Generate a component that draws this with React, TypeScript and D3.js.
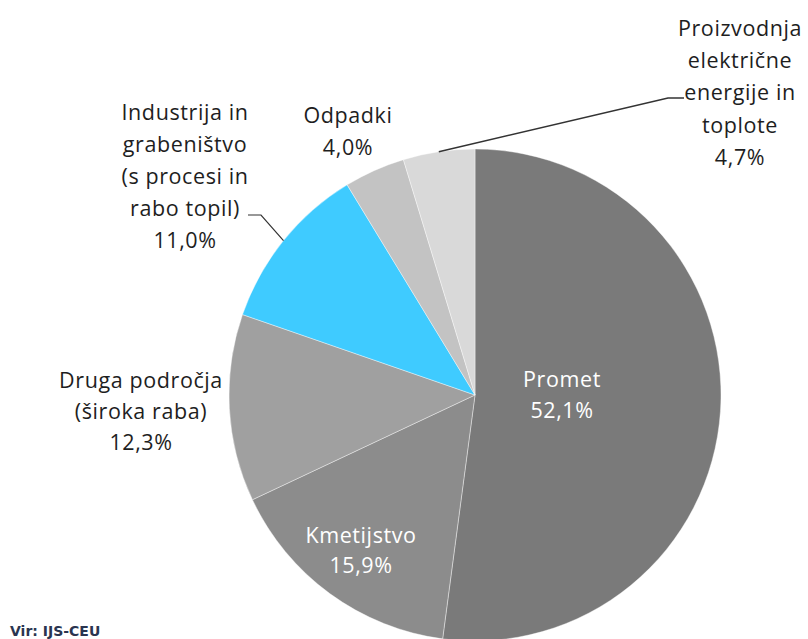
import React from "react";
import * as d3 from "d3";

const categories = [
  "Promet",
  "Kmetijstvo",
  "Druga področja (široka raba)",
  "Industrija in grabeništvo (s procesi in rabo topil)",
  "Odpadki",
  "Proizvodnja električne energije in toplote",
];
const shares = [52.1, 15.9, 12.3, 11.0, 4.0, 4.7];
const labelLines = [
  ["Promet"],
  ["Kmetijstvo"],
  ["Druga področja", "(široka raba)"],
  ["Industrija in", "grabeništvo", "(s procesi in", "rabo topil)"],
  ["Odpadki"],
  ["Proizvodnja", "električne", "energije in", "toplote"],
];
const sourceText = "Vir: IJS-CEU";

const colors = ["#7a7a7a", "#8c8c8c", "#a0a0a0", "#3fcbff", "#c3c3c3", "#d9d9d9"];
// label layout: center x, first baseline y, line step, inside?
const layout = [
  { x: 562, y: 387, step: 31, inside: true },
  { x: 361, y: 543, step: 30, inside: true },
  { x: 141, y: 388, step: 31, inside: false },
  { x: 185, y: 120, step: 32, inside: false },
  { x: 348, y: 123, step: 32, inside: false },
  { x: 740, y: 36, step: 32.2, inside: false },
];

const W = 808;
const H = 639;
const cx = 475;
const cy = 395;
const R = 246;

const fmt = (v: number) => v.toFixed(1).replace(".", ",") + "%";

export default function App() {
  const pie = d3.pie<number>().sort(null).value((d) => d);
  const arcs = pie(shares);
  const arc = d3.arc<d3.PieArcDatum<number>>().innerRadius(0).outerRadius(R);
  const edge = (a: d3.PieArcDatum<number>) => {
    const m = (a.startAngle + a.endAngle) / 2;
    return [cx + R * Math.sin(m), cy - R * Math.cos(m)];
  };
  const line = d3.line();
  const p5 = edge(arcs[5]);
  const p3 = edge(arcs[3]);
  const leader5 = line([
    [p5[0], p5[1]],
    [668, 98],
    [684, 98],
  ] as [number, number][]);
  const leader3 = line([
    [p3[0], p3[1]],
    [261, 215],
    [248, 215],
  ] as [number, number][]);

  return (
    <svg
      width={W}
      height={H}
      style={{ position: "absolute", left: 0, top: 0, background: "#fff" }}
      fontFamily="'Open Sans', sans-serif"
    >
      <g transform={`translate(${cx},${cy})`}>
        {arcs.map((a, i) => (
          <path
            key={categories[i]}
            d={arc(a) || ""}
            fill={colors[i]}
            stroke="#ffffff"
            strokeOpacity={0.5}
            strokeWidth={0.8}
          />
        ))}
      </g>
      <path d={leader5 || ""} fill="none" stroke="#333" strokeWidth={1.6} />
      <path d={leader3 || ""} fill="none" stroke="#333" strokeWidth={1.2} />
      {labelLines.map((lines, i) => {
        const L = layout[i];
        const all = [...lines, fmt(shares[i])];
        return (
          <text
            key={categories[i]}
            textAnchor="middle"
            fontSize={21.5}
            letterSpacing={0.6}
            fill={L.inside ? "#ffffff" : "#1e1e1e"}
          >
            {all.map((t, j) => (
              <tspan key={j} x={L.x} y={L.y + j * L.step}>
                {t}
              </tspan>
            ))}
          </text>
        );
      })}
      <text
        x={10}
        y={636}
        fontSize={14}
        fontWeight="bold"
        fontFamily="'DejaVu Sans', sans-serif"
        fill="#2a3550"
      >
        {sourceText}
      </text>
    </svg>
  );
}
